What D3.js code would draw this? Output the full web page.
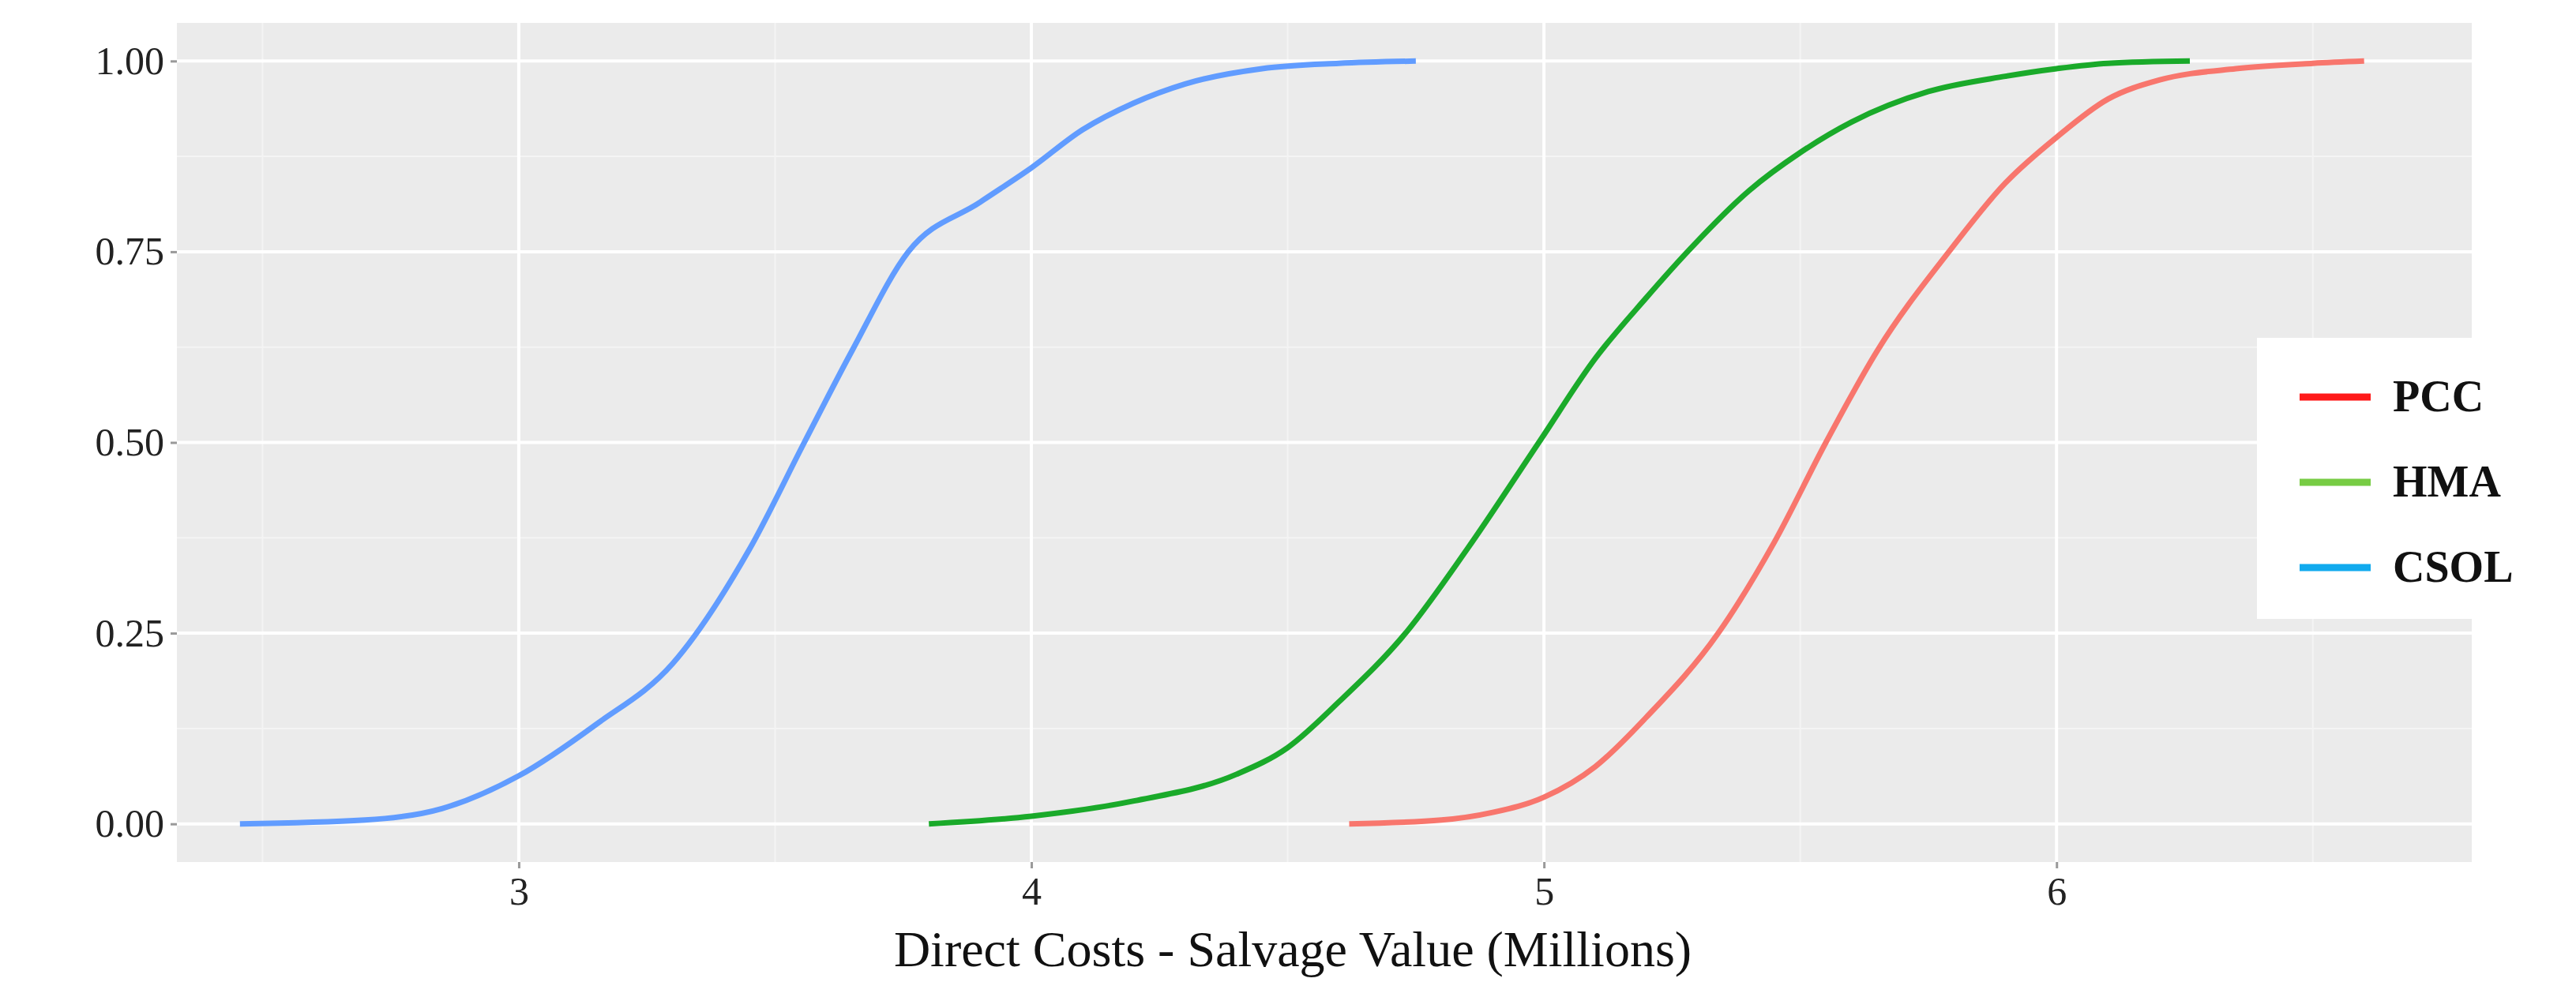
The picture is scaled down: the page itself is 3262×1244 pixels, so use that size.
<!DOCTYPE html><html><head><meta charset="utf-8">
<script src="https://cdn.jsdelivr.net/npm/d3@7"></script>
<style>body{margin:0;background:#fff}</style></head><body>
<svg id="c" width="3262" height="1244"></svg>
<script>
const xTicks=[3,4,5,6];
const yTicks=[0,0.25,0.5,0.75,1];
const yTickLabels=["0.00","0.25","0.50","0.75","1.00"];
const seriesNames=["PCC","HMA","CSOL"];
const csolX=[2.456,2.7,2.85,3.0,3.15,3.3,3.45,3.557,3.65,3.76,3.9,4.0,4.1,4.2,4.3,4.45,4.6,4.75];
const csolY=[0.0,0.005,0.02,0.063,0.13,0.21,0.36,0.5,0.62,0.75,0.815,0.86,0.91,0.945,0.97,0.99,0.997,1.0];
const hmaX=[3.80,4.0,4.2,4.4,4.5,4.6,4.73,4.85,4.99,5.1,5.2,5.28,5.4,5.5,5.6,5.75,5.9,6.0,6.1,6.26];
const hmaY=[0.0,0.01,0.03,0.065,0.1,0.16,0.25,0.36,0.5,0.61,0.69,0.75,0.83,0.88,0.92,0.96,0.98,0.99,0.997,1.0];
const pccX=[4.62,4.8,4.9,5.0,5.1,5.2,5.34,5.45,5.55,5.65,5.79,5.9,6.0,6.1,6.2,6.35,6.5,6.6];
const pccY=[0.0,0.005,0.015,0.035,0.075,0.14,0.25,0.37,0.5,0.62,0.75,0.84,0.9,0.95,0.975,0.99,0.997,1.0];
const curveColors=["#F8766D","#1aaa2a","#619CFF"];
const legendColors=["#ff1a1a","#77cc44","#11aaee"];
const series=[[pccX,pccY],[hmaX,hmaY],[csolX,csolY]];

const svg=d3.select("#c");
const L=224,R=3130,T=29,B=1092;
const x=d3.scaleLinear().domain([2.333,6.81]).range([L,R]);
const y=d3.scaleLinear().domain([-0.05,1.05]).range([B,T]);
svg.append("rect").attr("x",L).attr("y",T).attr("width",R-L).attr("height",B-T).attr("fill","#ebebeb");
const minorX=d3.range(2.5,7,1), minorY=[0.125,0.375,0.625,0.875];
minorX.forEach(v=>svg.append("line").attr("x1",x(v)).attr("x2",x(v)).attr("y1",T).attr("y2",B).attr("stroke","#f4f4f4").attr("stroke-width",2));
minorY.forEach(v=>svg.append("line").attr("x1",L).attr("x2",R).attr("y1",y(v)).attr("y2",y(v)).attr("stroke","#f4f4f4").attr("stroke-width",2));
xTicks.forEach(v=>svg.append("line").attr("x1",x(v)).attr("x2",x(v)).attr("y1",T).attr("y2",B).attr("stroke","#fff").attr("stroke-width",4));
yTicks.forEach(v=>svg.append("line").attr("x1",L).attr("x2",R).attr("y1",y(v)).attr("y2",y(v)).attr("stroke","#fff").attr("stroke-width",4));
const line=d3.line().x(d=>x(d[0])).y(d=>y(d[1])).curve(d3.curveMonotoneX);
series.forEach((s,i)=>{
  const pts=s[0].map((v,j)=>[v,s[1][j]]);
  svg.append("path").attr("d",line(pts)).attr("fill","none").attr("stroke",curveColors[i]).attr("stroke-width",7);
});
const font="Liberation Serif, Times New Roman, serif";
const xa=svg.append("g").attr("transform",`translate(0,${B})`).call(d3.axisBottom(x).tickValues(xTicks).tickFormat(d3.format("d")).tickSize(8).tickPadding(10));
const ya=svg.append("g").attr("transform",`translate(${L},0)`).call(d3.axisLeft(y).tickValues(yTicks).tickFormat((d,i)=>yTickLabels[i]).tickSize(8).tickPadding(8));
[xa,ya].forEach(a=>{a.select(".domain").remove();a.selectAll(".tick line").attr("stroke","#999").attr("stroke-width",3);
  a.selectAll("text").attr("font-family",font).attr("font-size",50).attr("fill","#222");});
svg.append("text").attr("x",(L+R)/2-40).attr("y",1224).attr("text-anchor","middle").attr("font-family",font).attr("font-size",64).attr("fill","#111").text("Direct Costs - Salvage Value (Millions)");
const lg=svg.append("g");
lg.append("rect").attr("x",2858).attr("y",428).attr("width",404).attr("height",356).attr("fill","#fff");
seriesNames.forEach((n,i)=>{
  const yy=503+i*108;
  lg.append("line").attr("x1",2912).attr("x2",3002).attr("y1",yy).attr("y2",yy).attr("stroke",legendColors[i]).attr("stroke-width",9);
  lg.append("text").attr("x",3030).attr("y",yy+18).attr("font-family",font).attr("font-weight","bold").attr("font-size",56).attr("fill","#111").text(n);
});
</script></body></html>
